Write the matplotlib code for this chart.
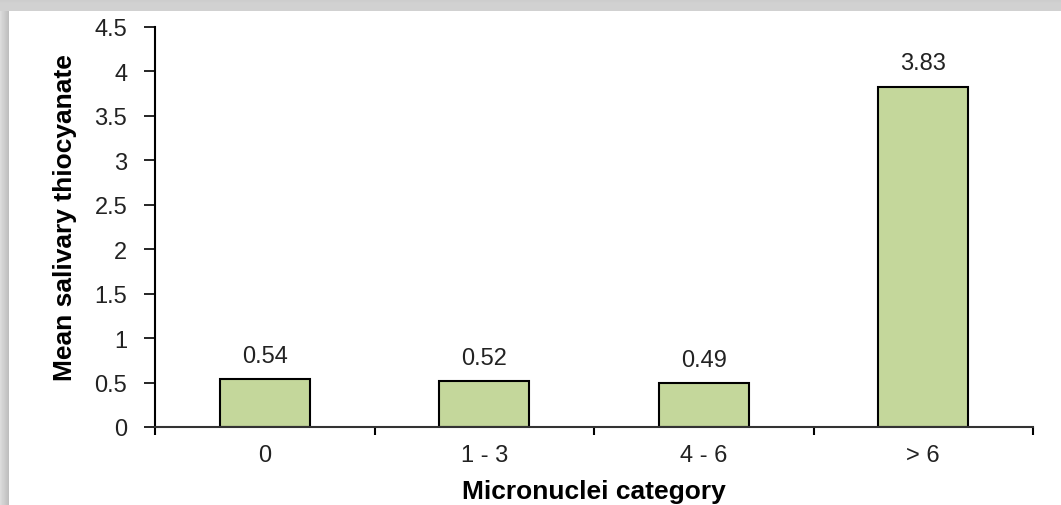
import matplotlib.pyplot as plt
import numpy as np

plt.rcParams['font.family'] = ['Liberation Sans', 'DejaVu Sans']

categories = ['0', '1 - 3', '4 - 6', '> 6']
mean_thiocyanate = [0.54, 0.52, 0.49, 3.83]
value_labels = ['0.54', '0.52', '0.49', '3.83']
yticks = [0, 0.5, 1, 1.5, 2, 2.5, 3, 3.5, 4, 4.5]
ytick_labels = ['0', '0.5', '1', '1.5', '2', '2.5', '3', '3.5', '4', '4.5']

W, H = 1061, 506
fig = plt.figure(figsize=(W / 100, H / 100), dpi=100)

# panel shadow along the top and left edges
bg = fig.add_axes([0, 0, 1, 1], zorder=-10)
img = np.ones((H, W))
top = 12
left = 9
for r in range(top):
    img[r, :] = 0.80 + 0.05 * (r / top)
for c in range(left):
    img[top:, c] = np.minimum(img[top:, c], 0.86 - 0.13 * (c / left))
img[:top, :] = np.minimum(img[:top, :], 0.82)
bg.imshow(img, cmap='gray', vmin=0, vmax=1, aspect='auto', interpolation='bilinear')
bg.axis('off')

ax = fig.add_axes([155 / W, 1 - 428 / H, (1033 - 155) / W, (428 - 28) / H])
ax.patch.set_alpha(0)
x = np.arange(len(categories))
ax.bar(x, mean_thiocyanate, width=0.41, color='#c4d79b', edgecolor='black', linewidth=1.5)

for xi, v, lab in zip(x, mean_thiocyanate, value_labels):
    ax.text(xi, v + 0.26, lab, ha='center', va='center', fontsize=17, color='#222222')

ax.set_xlim(-0.5, len(categories) - 0.5)
ax.set_ylim(0, 4.5)
ax.set_yticks(yticks)
ax.set_yticklabels(ytick_labels, fontsize=17, color='#222222')
ax.set_xticks(x)
ax.set_xticklabels(categories, fontsize=17, color='#222222')
ax.tick_params(axis='x', length=0, pad=12)
ax.tick_params(axis='y', length=8, width=1.2, pad=12)
# boundary ticks between categories
ax.set_xticks(np.arange(-0.5, len(categories)), minor=True)
ax.tick_params(axis='x', which='minor', length=6, width=1.5)

for s in ['top', 'right']:
    ax.spines[s].set_visible(False)
ax.spines['left'].set_linewidth(1.5)
ax.spines['bottom'].set_linewidth(1.5)
ax.spines['bottom'].set_color('#333333')

fig.text(594 / W, 1 - 492 / H, 'Micronuclei category', ha='center', va='center',
         fontsize=19, fontweight='bold')
fig.text(65 / W, 1 - 218 / H, 'Mean salivary thiocyanate', ha='center', va='center',
         rotation=90, fontsize=19, fontweight='bold')

fig.savefig('out.png', dpi=100)
